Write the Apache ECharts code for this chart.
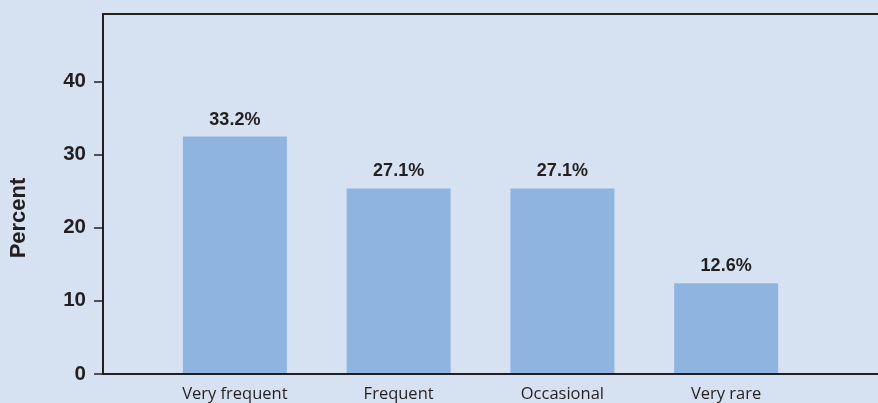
<!DOCTYPE html>
<html>
<head>
<meta charset="utf-8">
<script src="https://cdn.jsdelivr.net/npm/echarts@6/dist/echarts.min.js"></script>
<style>
  html, body { margin: 0; padding: 0; background: #d6e2f2; }
  #chart { width: 878px; height: 403px; }
</style>
</head>
<body>
<div id="chart"></div>
<script>
// Data
var categories = ['Very frequent', 'Frequent', 'Occasional', 'Very rare'];
var barValues = [32.4, 25.3, 25.3, 12.3];          // bar heights as drawn in the picture
var barLabels = ['33.2%', '27.1%', '27.1%', '12.6%']; // printed value labels
var yTicks = [0, 10, 20, 30, 40];
var yMax = 49.2;

var textColor = '#231f20';
var frameLine = { show: true, lineStyle: { color: textColor, width: 2 } };
var chart = echarts.init(document.getElementById('chart'));
chart.setOption({
  backgroundColor: '#d6e2f2',
  animation: false,
  grid: [
    { left: 103, right: 0, top: 14, bottom: 29 },
    { left: 153, right: 70, top: 14, bottom: 29 }
  ],
  xAxis: [
    { gridIndex: 0, type: 'value', position: 'bottom', min: 0, max: 1,
      axisLine: frameLine, axisTick: { show: false }, axisLabel: { show: false }, splitLine: { show: false } },
    { gridIndex: 0, type: 'value', position: 'top', min: 0, max: 1,
      axisLine: frameLine, axisTick: { show: false }, axisLabel: { show: false }, splitLine: { show: false } },
    { gridIndex: 1, type: 'category', data: categories,
      axisLine: { show: false }, axisTick: { show: false },
      axisLabel: { color: textColor, fontFamily: 'Open Sans', fontSize: 16.5, margin: 13 } }
  ],
  yAxis: [
    { gridIndex: 0, type: 'value', min: 0, max: yMax,
      axisLine: frameLine,
      axisTick: { show: true, length: 9, customValues: yTicks, lineStyle: { color: textColor, width: 1.5 } },
      axisLabel: { customValues: yTicks, color: textColor, fontFamily: 'Liberation Sans', fontWeight: 'bold', fontSize: 20.5, margin: 17 },
      splitLine: { show: false } },
    { gridIndex: 1, type: 'value', min: 0, max: yMax, show: false, splitLine: { show: false } }
  ],
  graphic: [
    { type: 'text', x: 19, y: 218, rotation: Math.PI / 2,
      style: { text: 'Percent', fill: textColor, font: 'bold 22px "Liberation Sans"',
               align: 'center', verticalAlign: 'middle' } }
  ],
  series: [
    { type: 'bar', xAxisIndex: 2, yAxisIndex: 1, data: barValues, barWidth: 104,
      itemStyle: { color: '#8fb4df' },
      label: { show: true, position: 'top', distance: 8,
               formatter: function (p) { return barLabels[p.dataIndex]; },
               color: textColor, fontFamily: 'Liberation Sans', fontWeight: 'bold', fontSize: 18 } }
  ]
});
</script>
</body>
</html>
